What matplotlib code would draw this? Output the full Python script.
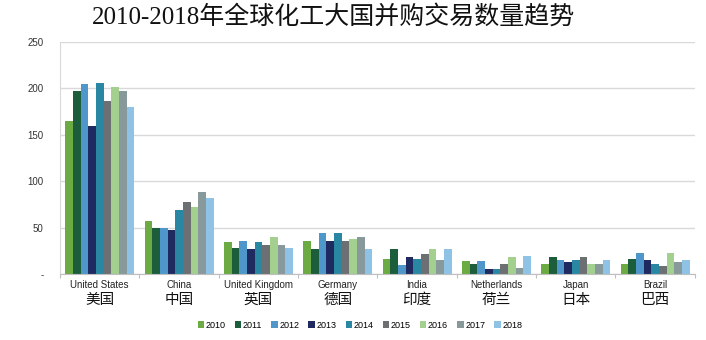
import numpy as np
import matplotlib.pyplot as plt
import matplotlib.transforms as mtransforms

plt.rcParams['font.family'] = ['Liberation Sans', 'Noto Sans CJK SC']

# === データ ===
countries_en = ['United States', 'China', 'United Kingdom', 'Germany', 'India',
                'Netherlands', 'Japan', 'Brazil']
countries_cn = ['美国', '中国', '英国', '德国', '印度', '荷兰', '日本', '巴西']
years = ['2010', '2011', '2012', '2013', '2014', '2015', '2016', '2017', '2018']

v2010 = [165, 57, 35, 36, 16, 14, 11, 11]
v2011 = [197, 50, 28, 27, 27, 11, 19, 17]
v2012 = [205, 50, 36, 44, 10, 14, 15, 23]
v2013 = [160, 48, 27, 36, 19, 6, 13, 15]
v2014 = [206, 69, 35, 44, 16, 6, 15, 11]
v2015 = [186, 78, 32, 36, 22, 11, 19, 9]
v2016 = [201, 72, 40, 38, 27, 19, 11, 23]
v2017 = [197, 89, 32, 40, 15, 7, 11, 13]
v2018 = [180, 82, 28, 27, 27, 20, 15, 15]
series = [v2010, v2011, v2012, v2013, v2014, v2015, v2016, v2017, v2018]

colors = ['#6cab44', '#1c5e3c', '#4f97cb', '#1f2a60', '#2a87a3',
          '#6c7073', '#a3cf8f', '#87999a', '#8ec3e6']

fig = plt.figure(figsize=(7.06, 3.40), dpi=100)
ax = fig.add_axes([0.085, 0.193, 0.899, 0.684])

x = np.arange(len(countries_en))
group_w = 0.87
bw = group_w / len(series)
for i, vals in enumerate(series):
    ax.bar(x - group_w / 2 + bw * (i + 0.5), vals, width=bw, color=colors[i],
           label=years[i], linewidth=0)

ax.set_xlim(-0.5, len(countries_en) - 0.5)
ax.set_ylim(0, 250)
ax.set_yticks([0, 50, 100, 150, 200, 250])
ax.set_yticklabels(['-', '50', '100', '150', '200', '250'], fontsize=7, color='#333333')
ax.yaxis.grid(True, color='#d9d9d9', linewidth=1)
ax.set_axisbelow(True)
ax.tick_params(axis='y', length=0, pad=12)

# カテゴリ境界の目盛り
ax.set_xticks(np.arange(-0.5, len(countries_en)), minor=False)
ax.set_xticklabels([])
ax.tick_params(axis='x', length=3, color='#bfbfbf', direction='out')

for s in ['top', 'right']:
    ax.spines[s].set_visible(False)
ax.spines['left'].set_color('#d9d9d9')
ax.spines['bottom'].set_color('#bfbfbf')

trans = mtransforms.blended_transform_factory(ax.transData, fig.transFigure)
for xi, en, cn in zip(x, countries_en, countries_cn):
    ax.text(xi, 1 - 285 / 340, en, transform=trans, ha='center', va='center',
            fontsize=7, color='#222222')
    ax.text(xi, 1 - 300 / 340, cn, transform=trans, ha='center', va='center',
            fontsize=10.5, color='#111111', family=['Noto Sans CJK SC'])

fig.text(0.472, 1 - 17 / 340, '2010-2018年全球化工大国并购交易数量趋势',
         ha='center', va='center', fontsize=18, color='#111111',
         family=['Liberation Serif', 'Noto Sans CJK SC'])

fig.legend(loc='center', bbox_to_anchor=(0.51, 1 - 325 / 340), ncol=9,
           frameon=False, fontsize=6.5, handlelength=0.7, handleheight=0.7,
           handletextpad=0.2, columnspacing=1.0)

plt.savefig('out.png', dpi=100)
